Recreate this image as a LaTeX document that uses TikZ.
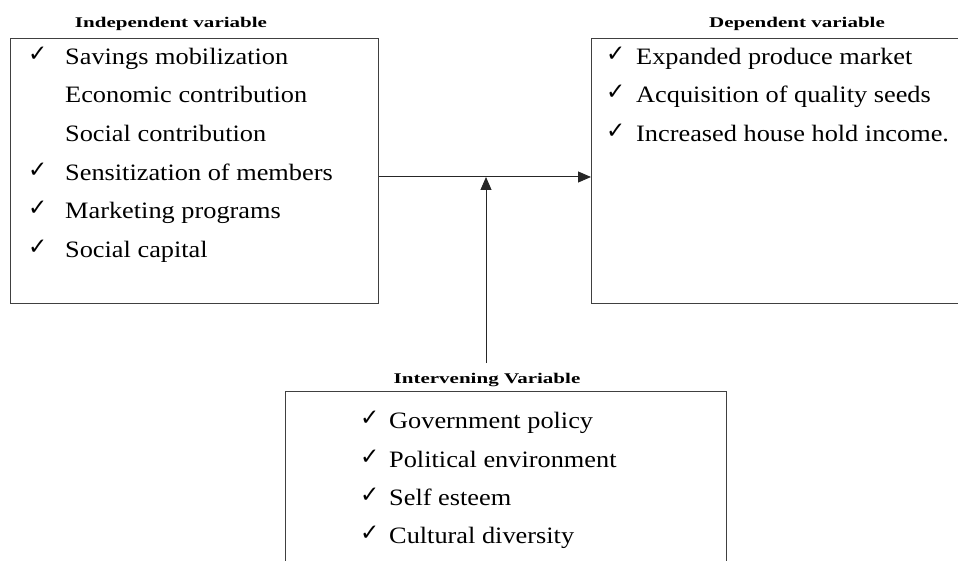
\documentclass[tikz,border=0pt]{standalone}
\usepackage{fontspec}
\setmainfont{Liberation Serif}[FakeStretch=1.12]
\newfontfamily\headfont{Liberation Serif}[FakeStretch=1.42]
\newfontfamily\tickfont{DejaVu Sans}
\usetikzlibrary{arrows.meta}

\tikzset{
	box/.style={draw=black!75, line width=1.2pt, anchor=north west, inner sep=0pt},
	item/.style={anchor=base west, inner sep=0pt, font=\fontsize{23.5}{28}\selectfont},
	tick/.style={anchor=base west, inner sep=0pt, font=\tickfont\bfseries\fontsize{23}{23}\selectfont},
	head/.style={anchor=base, inner sep=0pt, font=\headfont\bfseries\fontsize{14.8}{16}\selectfont},
	arr/.style={draw=black!85, line width=1pt, -{Triangle[length=13pt,width=11pt]}}
}

\begin{document}
\begin{tikzpicture}[x=1pt, y=-1pt]

	\useasboundingbox (0,0) rectangle (958,561);
	\clip (0,0) rectangle (958,561);

	% boxes
	\node[box, minimum width=368pt, minimum height=265pt] (indep)  at (10,38)  {};
	\node[box, minimum width=390pt, minimum height=265pt] (dep)    at (591,38) {};
	\node[box, minimum width=441pt, minimum height=200pt] (interv) at (285,391) {};

	% headings
	\node[head] (indephead)  at (171,28)  {Independent variable};
	\node[head] (dephead)    at (797,28)  {Dependent variable};
	\node[head] (intervhead) at (487,383) {Intervening Variable};

	% independent variable
	\node[tick] (t1) at (28,62)  {✓};
	\node[item] (savings)   at (65,65)  {Savings mobilization};
	\node[item] (economic)  at (65,103) {Economic contribution};
	\node[item] (social)    at (65,142) {Social contribution};
	\node[tick] (t4) at (28,178) {✓};
	\node[item] (sensitize) at (65,181) {Sensitization of members};
	\node[tick] (t5) at (28,216) {✓};
	\node[item] (marketing) at (65,219) {Marketing programs};
	\node[tick] (t6) at (28,255) {✓};
	\node[item] (capital)   at (65,258) {Social capital};

	% dependent variable
	\node[tick] (d1) at (606,62)  {✓};
	\node[item] (produce)   at (636,65)  {Expanded produce market};
	\node[tick] (d2) at (606,100) {✓};
	\node[item] (seeds)     at (636,103) {Acquisition of quality seeds};
	\node[tick] (d3) at (606,139) {✓};
	\node[item] (income)    at (636,142) {Increased house hold income.};

	% intervening variable
	\node[tick] (v1) at (360,425) {✓};
	\node[item] (policy)    at (389,428) {Government policy};
	\node[tick] (v2) at (360,464) {✓};
	\node[item] (political) at (389,467) {Political environment};
	\node[tick] (v3) at (360,502) {✓};
	\node[item] (esteem)    at (389,505) {Self esteem};
	\node[tick] (v4) at (360,540) {✓};
	\node[item] (cultural)  at (389,543) {Cultural diversity};

	% connectors
	\coordinate (join)   at (486,177);
	\coordinate (ivtail) at (486,363);
	\draw[arr] (indep.east |- join) -- (dep.west |- join);
	\draw[arr] (ivtail) -- (join);

\end{tikzpicture}
\end{document}
